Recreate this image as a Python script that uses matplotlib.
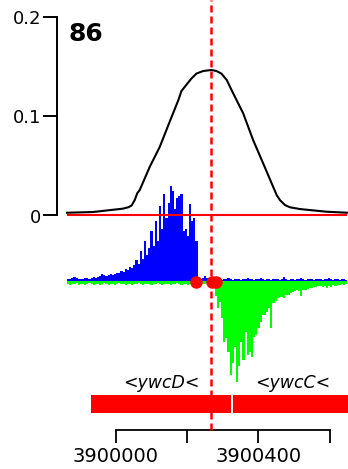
import matplotlib
matplotlib.use("Agg")
import matplotlib.pyplot as plt
import numpy as np

# ---------------- data ----------------
panel_label = "86"

# smoothed profile (top panel)
curve_pos = [3899863, 3899936, 3900020, 3900035, 3900044, 3900053, 3900060,
             3900067, 3900095, 3900123, 3900151, 3900175, 3900184, 3900194,
             3900212, 3900226, 3900245, 3900268, 3900282, 3900296, 3900311,
             3900325, 3900357, 3900385, 3900413, 3900441, 3900451, 3900460,
             3900474, 3900488, 3900516, 3900591, 3900649]
curve_val = [0.0028, 0.0035, 0.0069, 0.0083, 0.0100, 0.0156, 0.0224,
             0.0257, 0.0490, 0.0690, 0.0945, 0.1160, 0.1254, 0.1300,
             0.1380, 0.1430, 0.1456, 0.1466, 0.1456, 0.1430, 0.1365,
             0.1260, 0.1030, 0.0760, 0.0526, 0.0290, 0.0206, 0.0156,
             0.0106, 0.0083, 0.0065, 0.0038, 0.0028]

# read coverage, 6-bp bins starting at bin_start
bin_start = 3899863
bin_width = 6
plus_counts = [2, 2, 3, 4, 3, 2, 2, 2, 3, 3, 2, 3, 4, 3, 4, 5, 7, 6, 5, 6,
               7, 6, 7, 8, 8, 10, 9, 12, 11, 14, 13, 16, 21, 17, 30, 22, 40, 26, 33, 50,
               35, 60, 40, 75, 52, 87, 63, 78, 95, 90, 72, 83, 85, 87, 50, 52, 45, 77, 60, 63,
               40, 1, 2, 3, 5, 3, 2, 2, 2, 1, 2, 2, 1, 2, 2, 3, 2, 1, 2, 2,
               2, 1, 2, 2, 3, 2, 2, 1, 2, 2, 3, 2, 1, 2, 2, 1, 2, 2, 2, 1,
               2, 4, 2, 1, 2, 2, 1, 2, 2, 3, 2, 1, 2, 2, 2, 1, 2, 2, 2, 1,
               2, 2, 3, 2, 1, 2, 2, 1, 2, 2, 1]
minus_counts = [3, 4, 3, 3, 2, 4, 3, 3, 4, 3, 2, 3, 4, 3, 3, 4, 3, 2, 3, 4,
                3, 3, 4, 3, 2, 3, 3, 4, 3, 3, 4, 3, 3, 2, 3, 4, 3, 3, 3, 4,
                3, 3, 2, 3, 4, 3, 3, 3, 4, 3, 3, 2, 3, 4, 3, 3, 4, 3, 3, 2,
                3, 3, 4, 3, 3, 2, 3, 3, 6, 15, 27, 21, 37, 61, 57, 71, 94, 82, 66, 101,
                85, 61, 79, 51, 74, 71, 76, 56, 54, 47, 41, 34, 34, 31, 27, 47, 22, 20, 17, 16,
                16, 17, 14, 14, 12, 11, 10, 9, 10, 15, 9, 9, 8, 7, 7, 6, 6, 5, 5, 6,
                5, 7, 5, 6, 4, 5, 4, 4, 3, 4, 3]

# called sites
site_pos = [3900224, 3900269, 3900281]
site_val = [-1, -1, -1]

# reference position
ref_pos = 3900266

# genes
gene_names = ["ywcD", "ywcC"]
gene_start = [3899929, 3900329]
gene_end = [3900324, 3900665]
gene_strand = ["-", "-"]

# axes ticks
x_ticks = [3900000, 3900200, 3900400, 3900600]
x_tick_labels = ["3900000", "", "3900400", ""]
y_ticks = [0, 0.1, 0.2]
y_tick_labels = ["0", "0.1", "0.2"]

# ---------------- layout ----------------
W, H = 348, 469
fig = plt.figure(figsize=(W / 100, H / 100), dpi=100)
XMIN, XMAX = 3899835, 3900651


def rect(x0, y0, x1, y1):
    return [x0 / W, (H - y1) / H, (x1 - x0) / W, (y1 - y0) / H]


ax_mid = fig.add_axes(rect(57, 175, 348, 390))
ax_top = fig.add_axes(rect(57, 17, 348, 215.5))
ax_gene = fig.add_axes(rect(57, 365, 348, 430))
for a in (ax_mid, ax_top, ax_gene):
    a.set_xlim(XMIN, XMAX)
    a.patch.set_alpha(0)
ax_top.set_zorder(3)
ax_mid.set_zorder(2)
ax_gene.set_zorder(1)

# ---- reads panel ----
bins = bin_start + bin_width * np.arange(len(plus_counts))
ax_mid.bar(bins, -np.array(minus_counts), width=bin_width, align="edge",
           color="#00ff00", linewidth=0)
ax_mid.bar(bins, plus_counts, width=bin_width, align="edge",
           color="#0000ff", linewidth=0)
ax_mid.plot(site_pos, site_val, "o", color="#ff0000", markersize=9,
            markeredgewidth=0, zorder=5, clip_on=False)
ax_mid.set_ylim(-109, 106)
ax_mid.axis("off")

# ---- profile panel ----
ax_top.plot([curve_pos[0], curve_pos[-1]], [0, 0], color="#ff0000", lw=1.5,
            clip_on=False, solid_capstyle="butt")
ax_top.plot(curve_pos, curve_val, color="black", lw=1.5, clip_on=False,
            solid_joinstyle="round")
ax_top.set_ylim(0, 0.2)
for s in ("top", "right", "bottom"):
    ax_top.spines[s].set_visible(False)
ax_top.spines["left"].set_bounds(0, 0.2)
ax_top.spines["left"].set_linewidth(1.4)
ax_top.set_xticks([])
ax_top.set_yticks(y_ticks)
ax_top.set_yticklabels(y_tick_labels)
ax_top.tick_params(axis="y", length=10, width=1.4, pad=1.5, labelsize=13)
ax_top.text(0.038, 0.879, panel_label, transform=ax_top.transAxes,
            fontsize=18, fontweight="bold", ha="left", va="baseline")

# dashed reference line across the whole figure
ymin = -(430 - 215.5) / 198.5
ymax = 215.5 / 198.5
ax_top.axvline(ref_pos, ymin=ymin, ymax=ymax, color="#ff0000", lw=1.8,
               linestyle=(0, (2.8, 1.6)), clip_on=False, zorder=6)

# ---- gene panel ----
ax_gene.set_ylim(0, 65)
for name, s, e, st in zip(gene_names, gene_start, gene_end, gene_strand):
    ax_gene.add_patch(plt.Rectangle((s, 17), e - s, 18, color="#ff0000",
                                    linewidth=0, clip_on=False))
    arrow = "<" if st == "-" else ">"
    ax_gene.text((s + e) / 2, 47, f"{arrow}{name}{arrow}", ha="center",
                 va="center", fontsize=12.5, style="italic")
for s in ("top", "right", "left"):
    ax_gene.spines[s].set_visible(False)
ax_gene.spines["bottom"].set_bounds(x_ticks[0], x_ticks[-1])
ax_gene.spines["bottom"].set_linewidth(1.3)
ax_gene.set_yticks([])
ax_gene.set_xticks(x_ticks)
ax_gene.set_xticklabels(x_tick_labels)
ax_gene.tick_params(axis="x", length=9.5, width=1.3, pad=3, labelsize=14)

fig.savefig("out.png", dpi=100)
